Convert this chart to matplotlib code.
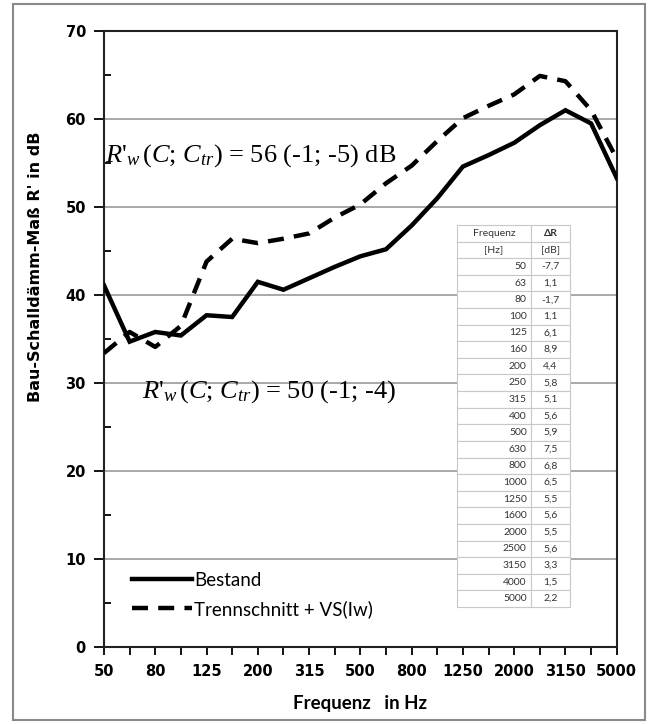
import matplotlib.pyplot as plt
from matplotlib.patches import Rectangle
from matplotlib.ticker import MultipleLocator

plt.rcParams['mathtext.fontset'] = 'custom'
plt.rcParams['mathtext.rm'] = 'Liberation Serif'
plt.rcParams['mathtext.it'] = 'Liberation Serif:italic'

freqs = ['50', '63', '80', '100', '125', '160', '200', '250', '315', '400', '500',
         '630', '800', '1000', '1250', '1600', '2000', '2500', '3150', '4000', '5000']
bestand = [41.1, 34.7, 35.8, 35.4, 37.7, 37.5, 41.5, 40.6, 41.9, 43.2, 44.4,
           45.2, 47.9, 51.0, 54.6, 55.9, 57.3, 59.3, 61.0, 59.5, 53.3]
trennschnitt = [33.4, 35.8, 34.1, 36.5, 43.8, 46.4, 45.9, 46.4, 47.0, 48.8, 50.3,
                52.7, 54.7, 57.5, 60.1, 61.5, 62.8, 64.9, 64.3, 61.0, 55.5]
delta_r = ['-7,7', '1,1', '-1,7', '1,1', '6,1', '8,9', '4,4', '5,8', '5,1', '5,6', '5,9',
           '7,5', '6,8', '6,5', '5,5', '5,6', '5,5', '5,6', '3,3', '1,5', '2,2']

fig = plt.figure(figsize=(6.54, 7.24), dpi=100)
ax = fig.add_axes([0.159, 0.1064, 0.784, 0.8507])

x = list(range(len(freqs)))
ax.plot(x, bestand, color='black', lw=3.2, solid_joinstyle='miter', label='Bestand', zorder=3)
ax.plot(x, trennschnitt, color='black', lw=3.2, linestyle=(0, (3.6, 2.3)),
        label='Trennschnitt + VS(Iw)', zorder=3)

ax.set_xlim(0, len(freqs) - 1)
ax.set_ylim(0, 70)
ax.set_xticks(x)
ax.set_xticklabels([f if i % 2 == 0 else '' for i, f in enumerate(freqs)],
                   fontsize=10.5, fontweight='bold')
ax.yaxis.set_major_locator(MultipleLocator(10))
ax.yaxis.set_minor_locator(MultipleLocator(5))
for lab in ax.get_yticklabels():
    lab.set_fontsize(10.5)
    lab.set_fontweight('bold')
ax.tick_params(axis='y', which='major', direction='out', length=7, width=1.3, pad=6)
ax.tick_params(axis='y', which='minor', direction='in', length=5, width=1.3)
ax.tick_params(axis='x', which='major', direction='out', length=6, width=1.3, pad=6)
ax.grid(axis='y', color='#999999', lw=1.2)
ax.set_axisbelow(True)
for s in ax.spines.values():
    s.set_linewidth(1.5)
    s.set_color('#222222')

ax.set_ylabel("Bau-Schalldämm-Maß R' in dB", fontsize=11.5, fontweight='bold')
ax.yaxis.set_label_coords(-0.119, 0.618)
ax.set_xlabel('Frequenz   in Hz', fontsize=13.5, fontweight='bold', family='Lato', labelpad=12)

ax.text(0.05, 55.9, r"$R\text{'}_{w}\,(C\text{; }C_{tr})$ = 56 (-1; -5) dB", fontsize=19,
        family='Liberation Serif', va='center', ha='left')
ax.text(1.5, 29.0, r"$R\text{'}_{w}\,(C\text{; }C_{tr})$ = 50 (-1; -4)", fontsize=19,
        family='Liberation Serif', va='center', ha='left')

leg = ax.legend(loc='lower left', bbox_to_anchor=(0.022, 0.02), frameon=False,
                prop={'family': 'Lato', 'size': 13.5}, handlelength=3.2,
                handletextpad=0.1, labelspacing=0.6)

rows = [['Frequenz', 'ΔR'], ['[Hz]', '[dB]']] + [[f, d] for f, d in zip(freqs, delta_r)]
tbl = ax.table(cellText=rows, bbox=[0.688, 0.065, 0.22, 0.62], colWidths=[0.66, 0.34])
tbl.auto_set_font_size(False)
tbl.set_fontsize(7.5)
tbl.set_zorder(5)
for (r, c), cell in tbl.get_celld().items():
    cell.set_edgecolor('#c8c8c8')
    cell.set_linewidth(0.8)
    cell.set_facecolor('white')
    cell.get_text().set_family('Lato')
    cell.get_text().set_color('#333333')
    if r >= 2 and c == 0:
        cell.get_text().set_ha('right')
        cell.PAD = 0.06
    else:
        cell.get_text().set_ha('center')
    if r == 0 and c == 1:
        cell.get_text().set_fontweight('bold')

fig.patches.append(Rectangle((13 / 654, 4 / 724), 632 / 654, 716 / 724, transform=fig.transFigure,
                             fill=False, edgecolor='#8a8a8a', lw=1.5))

fig.savefig('out.png', dpi=100)
